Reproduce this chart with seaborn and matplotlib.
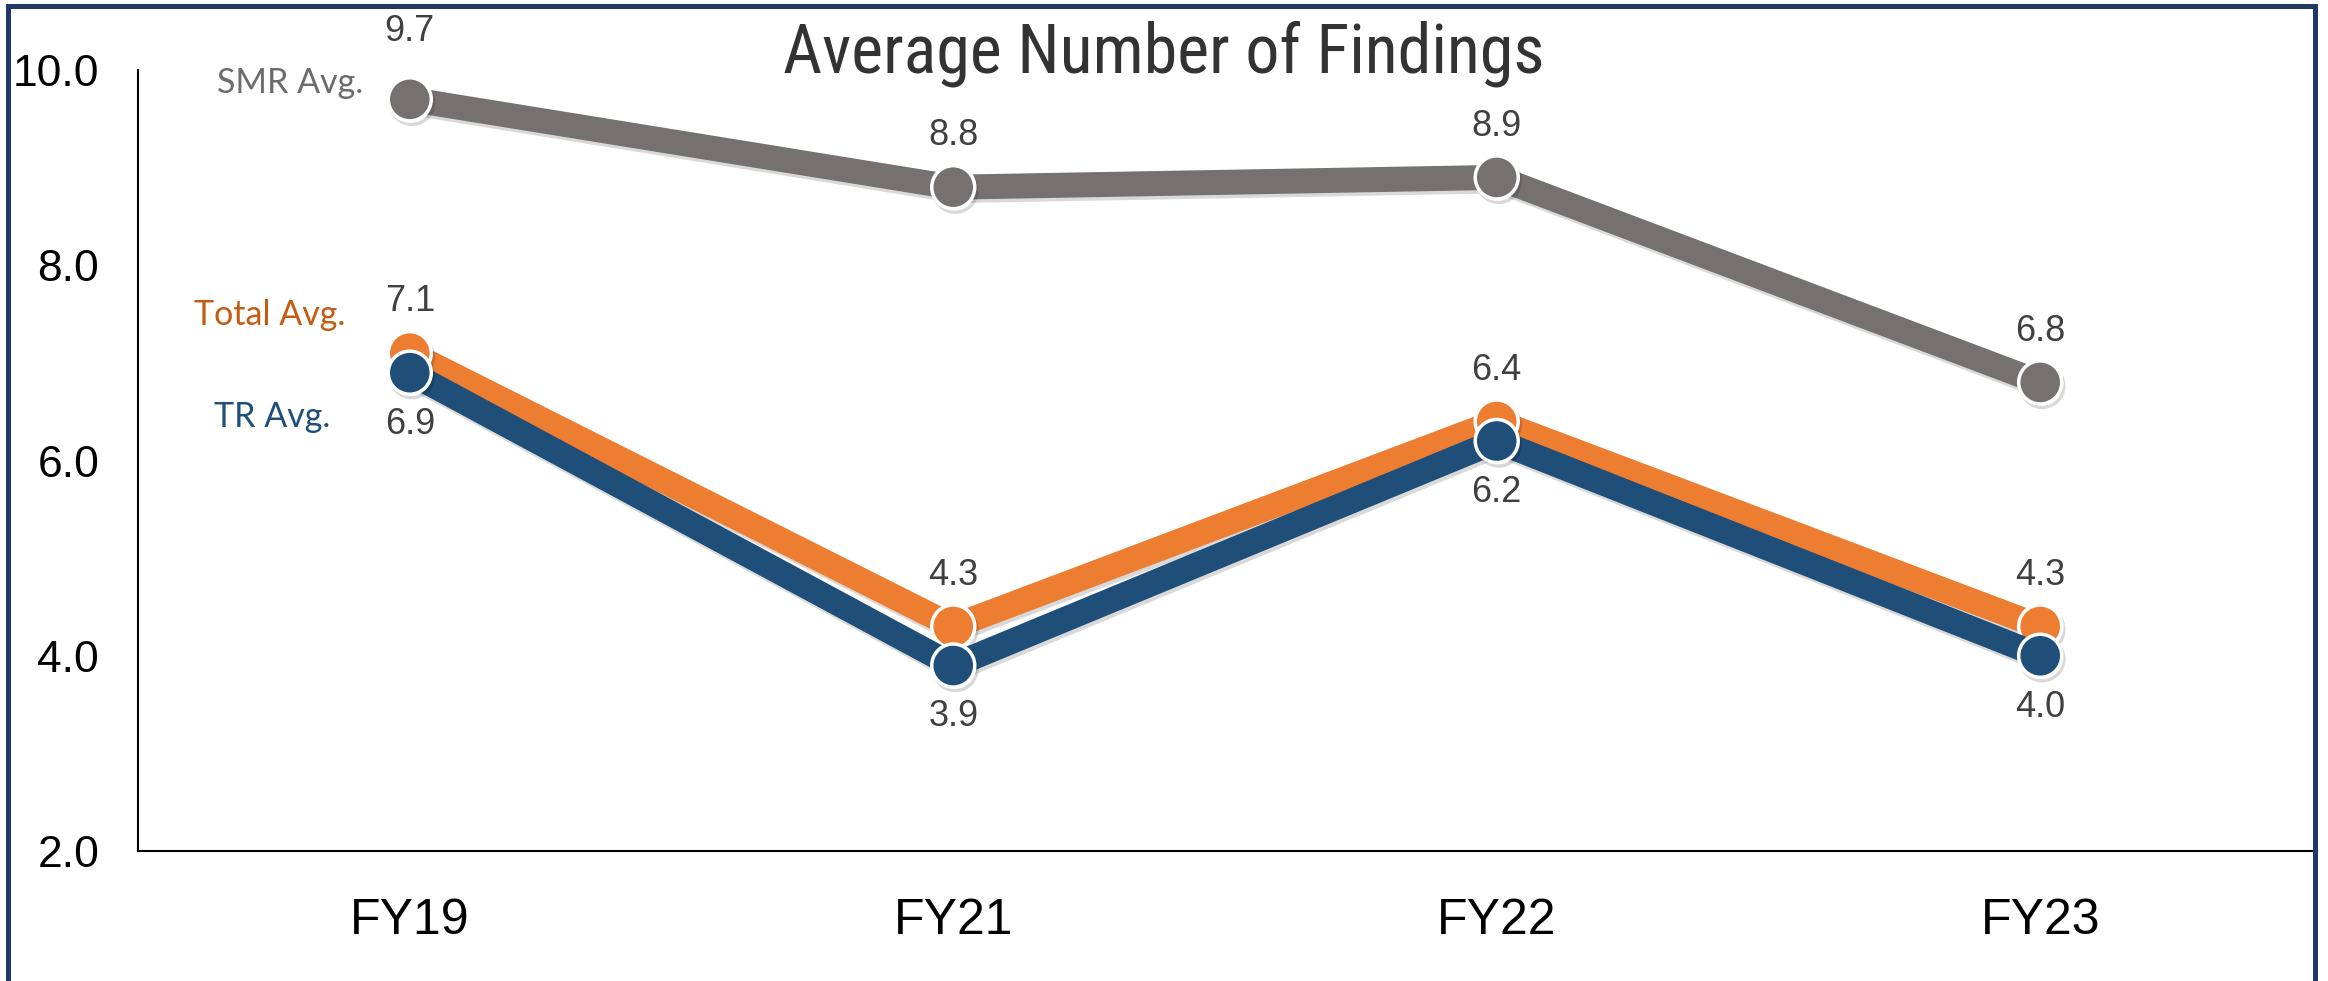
import matplotlib
matplotlib.use("Agg")
import matplotlib.pyplot as plt
import matplotlib.patches as mpatches
import matplotlib.patheffects as pe
from matplotlib import font_manager
import pandas as pd
import seaborn as sns

# values
years = ["FY19", "FY21", "FY22", "FY23"]
smr_avg = [9.7, 8.8, 8.9, 6.8]
total_avg = [7.1, 4.3, 6.4, 4.3]
tr_avg = [6.9, 3.9, 6.2, 4.0]
series_names = ["SMR Avg.", "Total Avg.", "TR Avg."]
y_ticks = [2.0, 4.0, 6.0, 8.0, 10.0]

df = pd.DataFrame({
    "year": years * 3,
    "value": smr_avg + total_avg + tr_avg,
    "series": [s for s in series_names for _ in years],
})

palette = {"SMR Avg.": "#767171", "Total Avg.": "#ED7D31", "TR Avg.": "#1F4E79"}
label_colors = {"SMR Avg.": "#6E6B6B", "Total Avg.": "#C55A11", "TR Avg.": "#1F4E79"}

sns.set_style("white")
plt.rcParams["font.family"] = ["Liberation Sans", "DejaVu Sans"]

installed = {f.name for f in font_manager.fontManager.ttflist}
title_font = "Liberation Sans"
for cand in ["Liberation Sans Narrow", "Roboto Condensed", "Open Sans Condensed"]:
    if cand in installed:
        title_font = cand
        break

fig = plt.figure(figsize=(23.28, 9.81), dpi=100)
ax = fig.add_axes([0.0593, 0.1325, 0.9338, 0.7961])

sns.lineplot(
    data=df, x="year", y="value", hue="series", hue_order=series_names,
    palette=palette, marker="o", markersize=31, markeredgecolor="white",
    markeredgewidth=2.5, linewidth=18, sort=False, legend=False, ax=ax,
)

for line in ax.lines:
    line.set_solid_capstyle("butt")
    line.set_path_effects([
        pe.SimpleLineShadow(offset=(1.5, -2.5), shadow_color="black", alpha=0.15),
        pe.Normal(),
    ])

# data labels
offsets = {"SMR Avg.": 37, "Total Avg.": 37, "TR Avg.": -37}
for name, vals in zip(series_names, [smr_avg, total_avg, tr_avg]):
    for i, v in enumerate(vals):
        off = offsets[name]
        if name == "SMR Avg." and i == 0:
            off = 49
        ax.annotate(f"{v:.1f}", (i, v), xytext=(0, off), textcoords="offset points",
                    ha="center", va="center", fontsize=26, color="#404040")

# series names next to first point
name_pos = {"SMR Avg.": 9.87, "Total Avg.": 7.49, "TR Avg.": 6.45}
name_x = {"SMR Avg.": -0.085, "Total Avg.": -0.118, "TR Avg.": -0.147}
for name in series_names:
    ax.text(name_x[name], name_pos[name], name, ha="right", va="center",
            fontsize=24.5, color=label_colors[name], family=["Lato", "DejaVu Sans"])

ax.set_xlim(-0.5, 3.5)
ax.set_ylim(2, 10)
ax.set_yticks(y_ticks)
ax.set_yticklabels([f"{t:.1f}" for t in y_ticks])
ax.set_xlabel("")
ax.set_ylabel("")
ax.tick_params(axis="y", length=0, pad=28, labelsize=32, labelcolor="black")
ax.tick_params(axis="x", length=0, pad=34, labelsize=36, labelcolor="black")

sns.despine(ax=ax)
for side in ["left", "bottom"]:
    ax.spines[side].set_color("black")
    ax.spines[side].set_linewidth(1.5)

fig.text(0.5, 0.945, "Average Number of Findings", ha="center", va="center",
         fontsize=49, color="#333333", family=[title_font, "DejaVu Sans"])

# dark blue frame round the whole picture
frame = mpatches.Rectangle((0.0036, -0.05), 0.9909, 1.0440, transform=fig.transFigure,
                           fill=False, edgecolor="#203864", linewidth=3.6)
fig.patches.append(frame)

fig.savefig("out.png", dpi=100)
